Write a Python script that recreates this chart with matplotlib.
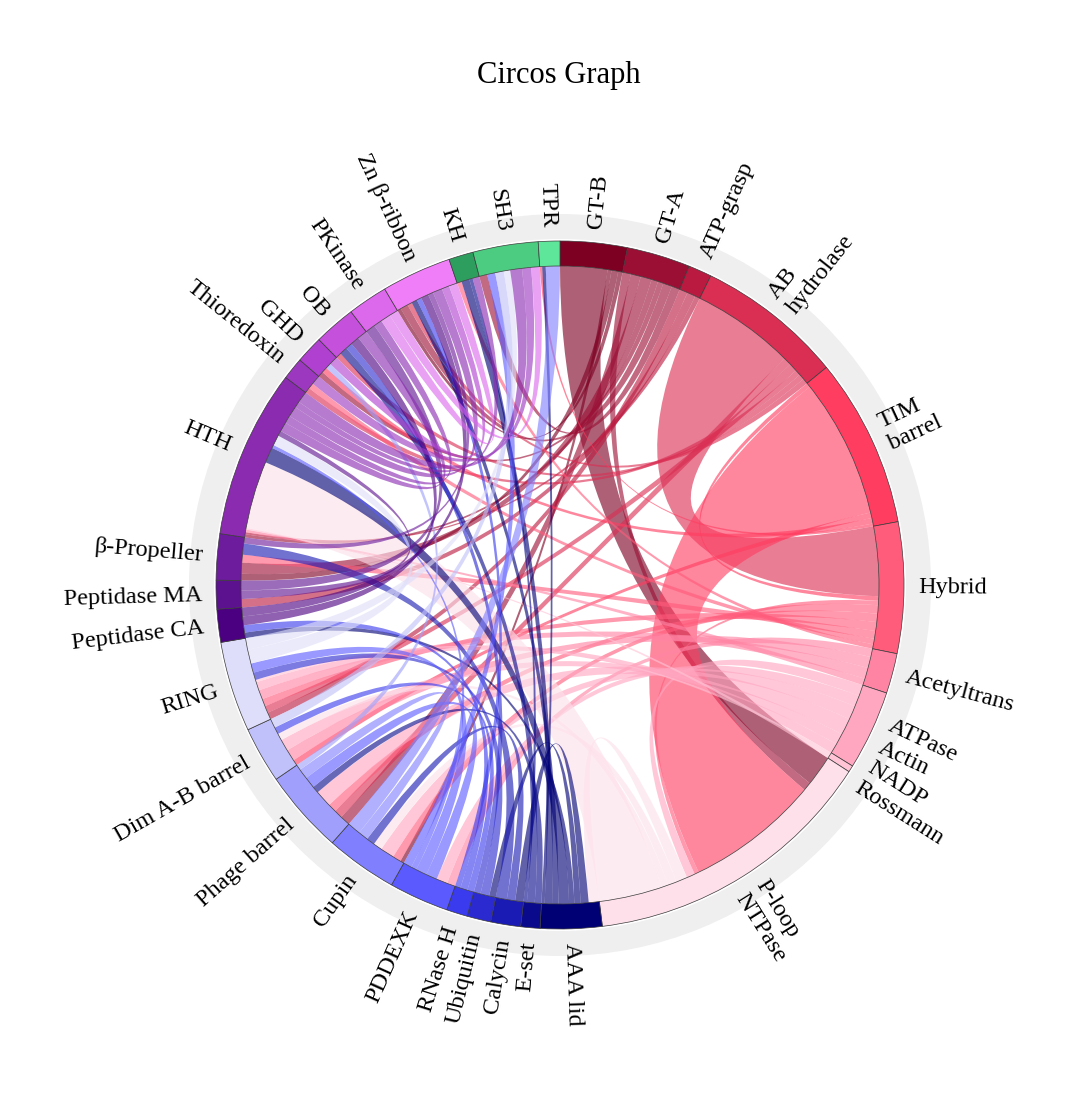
import numpy as np
import matplotlib
matplotlib.use("Agg")
import matplotlib.pyplot as plt
from matplotlib.path import Path
from matplotlib.patches import PathPatch, Wedge

# ============ Domains (clockwise from 12 o'clock) ============

domains = ["GT-B", "GT-A", "ATP-grasp", "AB\nhydrolase", "TIM\nbarrel", "Hybrid",
           "Acetyltrans", "ATPase\nActin", "NADP\nRossmann", "P-loop\nNTPase",
           "AAA lid", "E-set", "Calycin", "Ubiquitin", "RNase H", "PDDEXK", "Cupin",
           "Phage barrel", "Dim A-B barrel", "RING", "Peptidase CA", "Peptidase MA",
           "β-Propeller", "HTH", "Thioredoxin", "GHD", "OB", "PKinase", "Zn β-ribbon",
           "KH", "SH3", "TPR"]

# arc length of each domain (degrees)
arc_sizes = [11.2, 10.6, 3.9, 24.5, 28.3, 21.9, 6.7, 13.3, 1.1, 49.5,
             10.3, 3.2, 5.0, 4.0, 3.5, 10.0, 12.0, 14.0, 9.4, 15.1,
             5.5, 4.8, 7.7, 28.2, 3.7, 4.6, 7.0, 6.7, 11.7,
             4.1, 10.9, 3.6]

ring_colors = ["#7d0022", "#9b0f35", "#bb1a40", "#da2e53", "#ff3d61", "#ff5b7b",
               "#ff84a4", "#ffa6c1", "#ffc4d6", "#fde0ea",
               "#000075", "#0a0a8c", "#1a1ab4", "#2a2ad0", "#3a3aee", "#5a5aff",
               "#8080ff", "#a0a0fc", "#c0c0fa", "#dedefa",
               "#4a0080", "#5c128e", "#6c1c9c", "#8a2bb0", "#9c38c0", "#b040d0",
               "#c450dc", "#dc68ec", "#f07ef8",
               "#2e9e5e", "#4ccc80", "#5ee69a"]

# links: (domain a, domain b, width at a, width at b)
links = [
    (0, 9, 8.5, 5.5), (0, 16, 0.7, 0.7), (0, 22, 1.2, 1.2), (0, 28, 0.8, 0.8),
    (1, 9, 1.5, 1.5), (1, 17, 1.8, 1.8), (1, 22, 2.0, 2.0), (1, 23, 1.2, 0.6),
    (1, 25, 1.0, 1.0), (1, 28, 1.6, 1.6), (1, 30, 1.5, 1.5),
    (2, 19, 1.5, 1.5), (2, 21, 1.5, 1.5), (2, 23, 0.9, 0.4),
    (3, 5, 18.5, 12.5), (3, 17, 1.5, 1.5), (3, 19, 1.5, 1.5), (3, 24, 1.0, 1.0),
    (3, 26, 1.0, 1.0), (3, 28, 1.0, 1.0),
    (4, 5, 0.8, 0.8), (4, 9, 25.0, 24.0), (4, 18, 1.0, 1.0), (4, 25, 1.0, 1.0),
    (4, 31, 0.5, 0.4),
    (5, 9, 0.8, 0.8), (5, 16, 1.5, 1.5), (5, 17, 1.5, 1.5), (5, 19, 1.6, 1.6),
    (5, 22, 1.4, 1.4), (5, 24, 1.0, 1.0), (5, 29, 0.8, 0.8),
    (6, 15, 1.5, 1.5), (6, 18, 2.0, 2.0), (6, 19, 2.0, 2.0), (6, 23, 1.2, 0.5),
    (7, 9, 2.0, 1.5), (7, 15, 2.0, 2.0), (7, 16, 2.5, 2.5), (7, 17, 3.0, 3.0),
    (7, 18, 2.0, 2.0), (7, 19, 1.8, 1.8),
    (8, 19, 0.5, 0.5), (8, 23, 0.6, 0.3),
    (9, 10, 2.0, 2.0), (9, 16, 1.6, 1.6), (9, 18, 1.2, 1.2), (9, 23, 11.4, 13.0),
    (10, 12, 1.5, 1.5), (10, 13, 1.2, 1.2), (10, 20, 1.0, 1.0), (10, 23, 2.0, 3.0),
    (10, 28, 1.2, 1.2), (10, 29, 1.4, 1.4), (10, 31, 0.6, 0.6),
    (11, 17, 1.2, 1.2), (11, 26, 1.4, 1.4), (11, 29, 0.6, 0.6),
    (12, 16, 1.5, 1.5), (12, 22, 2.0, 2.0),
    (13, 19, 1.6, 1.6), (13, 26, 1.2, 1.2),
    (14, 18, 1.2, 1.2), (14, 20, 1.3, 1.3), (14, 28, 1.0, 1.0),
    (15, 17, 2.0, 2.0), (15, 19, 2.0, 2.0), (15, 23, 1.0, 0.6), (15, 30, 1.5, 1.5),
    (16, 17, 1.8, 1.8), (16, 31, 2.4, 2.4),
    (17, 25, 1.0, 1.0),
    (18, 30, 1.6, 1.6),
    (19, 23, 3.0, 2.0), (19, 30, 2.5, 1.2),
    (20, 26, 1.6, 1.6), (20, 28, 1.6, 1.6),
    (21, 23, 1.5, 1.0), (21, 27, 1.8, 1.8),
    (22, 28, 1.1, 1.1),
    (23, 26, 1.8, 1.8), (23, 27, 1.5, 1.5), (23, 28, 2.0, 2.0), (23, 29, 1.2, 1.2),
    (23, 30, 2.2, 2.2),
    (24, 30, 1.7, 1.7),
    (25, 28, 1.6, 1.6),
    (27, 28, 1.8, 1.8), (27, 30, 1.6, 1.6),
]

# ============ Geometry ============

R_IN, R_OUT = 319, 344
GREY_IN, GREY_OUT = 346, 371
LABEL_R = 358
RIBBON_ALPHA = 0.62

n = len(domains)
sizes = np.array(arc_sizes) * 360.0 / sum(arc_sizes)
seg_start = 90 - np.concatenate([[0], np.cumsum(sizes)[:-1]])
seg_end = seg_start - sizes

# split every domain arc among its link ends, ordered by partner index
ends = {k: [] for k in range(n)}
for idx, (a, b, wa, wb) in enumerate(links):
    ends[a].append((b, idx, wa))
    ends[b].append((a, idx, wb))

end_pos = {}
for k in range(n):
    items = sorted(ends[k])
    f = sizes[k] / sum(w for _, _, w in items)
    t = seg_start[k]
    for partner, idx, w in items:
        end_pos[(idx, k)] = (t, t - w * f)
        t -= w * f


def arc_points(t1, t2, r, num=40):
    ts = np.radians(np.linspace(t1, t2, num))
    return np.column_stack([r * np.cos(ts), r * np.sin(ts)])


def ribbon_path(a1, a2, b1, b2, r):
    A = arc_points(a1, a2, r)
    B = arc_points(b1, b2, r)
    verts = list(A) + [(0, 0), B[0]] + list(B[1:]) + [(0, 0), A[0]]
    codes = ([Path.MOVETO] + [Path.LINETO] * (len(A) - 1) + [Path.CURVE3] * 2
             + [Path.LINETO] * (len(B) - 1) + [Path.CURVE3] * 2)
    return Path(verts, codes)


# ============ Figure ============

fig = plt.figure(figsize=(10.8, 10.95), dpi=100)
ax = fig.add_axes([0, 0, 1, 1])
ax.set_xlim(-560, 520)
ax.set_ylim(-510, 585)
ax.set_aspect("equal")
ax.axis("off")

ax.add_patch(Wedge((0, 0), GREY_OUT, 0, 360, width=GREY_OUT - GREY_IN,
                   facecolor="#efefef", edgecolor="none", zorder=1))

for idx, (a, b, wa, wb) in enumerate(links):
    a1, a2 = end_pos[(idx, a)]
    b1, b2 = end_pos[(idx, b)]
    ax.add_patch(PathPatch(ribbon_path(a1, a2, b1, b2, R_IN),
                           facecolor=ring_colors[min(a, b)], edgecolor="none",
                           alpha=RIBBON_ALPHA, zorder=2))

for k in range(n):
    ax.add_patch(Wedge((0, 0), R_OUT, seg_end[k], seg_start[k], width=R_OUT - R_IN,
                       facecolor=ring_colors[k], edgecolor="#3a3a3a", linewidth=0.5, zorder=3))

# ============ Labels ============

for k, name in enumerate(domains):
    mid = (seg_start[k] + seg_end[k]) / 2
    m = (mid + 180) % 360 - 180
    x, y = LABEL_R * np.cos(np.radians(mid)), LABEL_R * np.sin(np.radians(mid))
    if -90 <= m <= 90:
        rot, ha = m, "left"
    else:
        rot, ha = m - 180, "right"
    ax.text(x, y, name, rotation=rot, rotation_mode="anchor", ha=ha, va="center",
            multialignment=ha, fontsize=17.5, family="Liberation Serif", zorder=4)

fig.text(0.517, 1 - 75 / 1095, "Circos Graph", ha="center", va="center",
         fontsize=22, family="Liberation Serif")

fig.savefig("out.png", dpi=100)
